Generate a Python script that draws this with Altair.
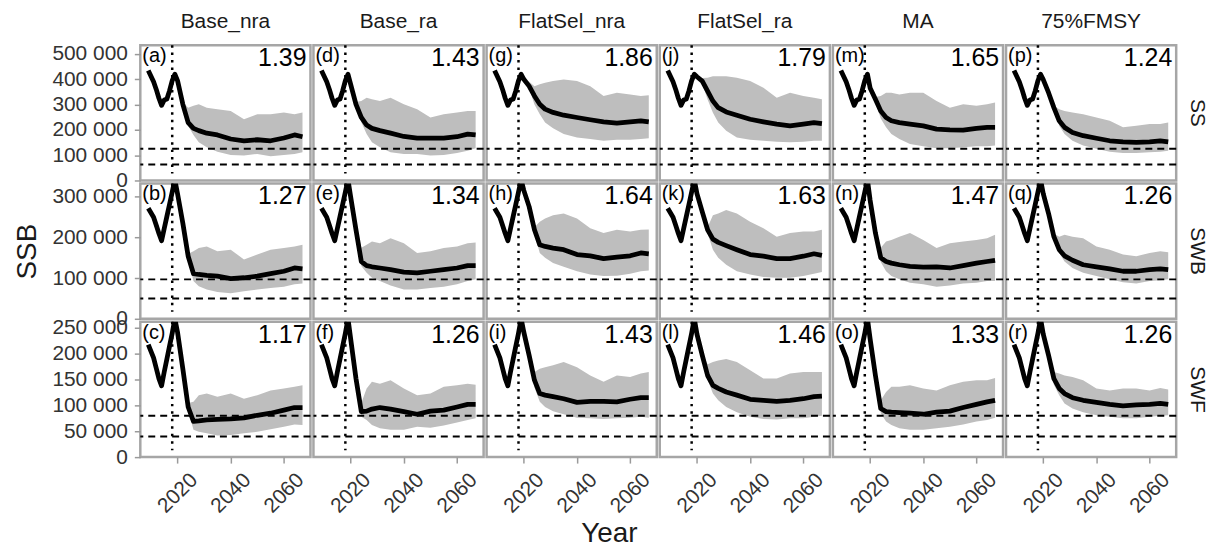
import altair as alt
import pandas as pd

# ---------------- data ----------------
scenarios = ["Base_nra", "Base_ra", "FlatSel_nra", "FlatSel_ra", "MA", "75%FMSY"]
stocks = ["SS", "SWB", "SWF"]
letters = [["(a)", "(d)", "(g)", "(j)", "(m)", "(p)"],
           ["(b)", "(e)", "(h)", "(k)", "(n)", "(q)"],
           ["(c)", "(f)", "(i)", "(l)", "(o)", "(r)"]]
ratios = [["1.39", "1.43", "1.86", "1.79", "1.65", "1.24"],
          ["1.27", "1.34", "1.64", "1.63", "1.47", "1.26"],
          ["1.17", "1.26", "1.43", "1.46", "1.33", "1.26"]]

hist_years = [2009, 2011, 2012, 2013, 2014, 2015, 2016, 2017, 2018, 2019]
hist_ss = [435, 390, 360, 325, 297, 318, 322, 355, 395, 420]
hist_swb = [272, 250, 230, 210, 192, 222, 252, 282, 312, 342]
hist_swf = [218, 192, 172, 152, 138, 165, 190, 215, 240, 268]

proj_years = [2020, 2022, 2024, 2026, 2028, 2031, 2035, 2040, 2045, 2050, 2055, 2060, 2064, 2067]

# SSB in thousand tonnes: median, lower, upper per scenario
ss_med = [[395, 301, 229, 206, 197, 187, 180, 164, 157, 161, 157, 168, 180, 173],
          [380, 301, 249, 219, 206, 197, 187, 174, 167, 167, 167, 173, 183, 180],
          [400, 373, 334, 301, 282, 269, 258, 249, 240, 232, 227, 232, 236, 232],
          [410, 393, 353, 314, 288, 271, 258, 242, 232, 223, 216, 223, 229, 225],
          [366, 321, 275, 249, 236, 229, 223, 216, 203, 200, 199, 206, 210, 210],
          [399, 347, 288, 236, 210, 190, 177, 167, 157, 153, 151, 153, 157, 153]]
ss_hi = [[395, 310, 288, 295, 301, 288, 282, 275, 242, 262, 262, 269, 262, 269],
         [380, 310, 314, 327, 321, 314, 327, 301, 282, 249, 262, 269, 275, 275],
         [400, 390, 373, 380, 386, 393, 399, 393, 373, 334, 347, 340, 334, 337],
         [410, 405, 406, 412, 412, 412, 406, 393, 367, 327, 347, 334, 327, 321],
         [366, 330, 334, 347, 347, 340, 347, 347, 314, 288, 301, 295, 301, 308],
         [399, 355, 295, 282, 275, 269, 262, 249, 236, 210, 216, 223, 223, 229]]
ss_lo = [[395, 290, 215, 180, 151, 131, 114, 101, 99, 105, 96, 101, 105, 112],
         [380, 295, 230, 184, 151, 131, 112, 105, 105, 99, 101, 109, 118, 127],
         [400, 365, 300, 262, 229, 206, 184, 170, 164, 157, 161, 161, 164, 167],
         [410, 380, 320, 268, 229, 197, 170, 161, 157, 153, 151, 153, 157, 157],
         [366, 310, 245, 210, 184, 164, 144, 135, 127, 127, 131, 135, 135, 138],
         [399, 340, 280, 216, 184, 157, 138, 125, 114, 109, 109, 112, 114, 118]]

swb_med = [[308, 235, 154, 111, 109, 107, 105, 99, 101, 105, 111, 117, 125, 123],
           [300, 219, 141, 131, 128, 125, 121, 115, 113, 117, 121, 125, 131, 131],
           [316, 276, 219, 182, 178, 174, 170, 158, 155, 148, 152, 155, 162, 160],
           [308, 263, 219, 196, 188, 180, 170, 158, 154, 148, 148, 154, 160, 156],
           [292, 211, 150, 141, 137, 133, 129, 127, 128, 125, 131, 137, 141, 144],
           [308, 259, 202, 170, 155, 144, 133, 128, 123, 117, 117, 121, 123, 121]]
swb_hi = [[308, 240, 160, 166, 174, 178, 166, 170, 146, 158, 170, 174, 178, 182],
          [300, 225, 175, 182, 190, 186, 198, 186, 162, 166, 174, 178, 186, 188],
          [316, 280, 225, 239, 247, 255, 259, 247, 223, 211, 219, 215, 219, 220],
          [308, 268, 225, 255, 259, 268, 259, 239, 223, 202, 211, 215, 215, 219],
          [292, 216, 175, 190, 194, 202, 211, 194, 174, 186, 190, 194, 198, 207],
          [308, 263, 210, 202, 207, 202, 198, 178, 170, 158, 154, 162, 166, 164]]
swb_lo = [[308, 230, 145, 93, 80, 72, 66, 63, 68, 72, 76, 79, 85, 87],
          [300, 213, 130, 113, 101, 93, 82, 72, 72, 76, 79, 85, 93, 97],
          [316, 270, 210, 162, 150, 137, 128, 117, 109, 105, 106, 111, 117, 119],
          [308, 258, 210, 170, 150, 133, 117, 109, 103, 101, 101, 105, 111, 115],
          [292, 206, 140, 117, 105, 97, 89, 85, 79, 82, 87, 89, 93, 93],
          [308, 255, 195, 162, 141, 125, 113, 105, 97, 90, 87, 93, 95, 97]]

swf_med = [[242, 171, 97, 69, 70, 72, 73, 74, 76, 81, 85, 91, 96, 96],
           [229, 152, 88, 89, 93, 96, 93, 88, 83, 89, 91, 97, 102, 102],
           [242, 197, 149, 123, 120, 117, 113, 106, 108, 108, 107, 112, 115, 115],
           [238, 197, 158, 139, 133, 126, 120, 112, 110, 108, 110, 113, 117, 118],
           [229, 158, 94, 88, 87, 86, 85, 83, 87, 89, 96, 102, 107, 110],
           [238, 197, 152, 133, 123, 115, 110, 106, 102, 99, 101, 102, 104, 102]]
swf_hi = [[242, 175, 105, 107, 120, 123, 117, 123, 113, 120, 129, 133, 136, 139],
          [229, 156, 105, 133, 146, 142, 149, 133, 120, 123, 136, 139, 142, 140],
          [242, 201, 165, 171, 174, 178, 184, 174, 158, 146, 158, 155, 162, 165],
          [238, 201, 180, 184, 187, 190, 184, 168, 152, 152, 162, 165, 165, 165],
          [229, 162, 110, 126, 136, 136, 139, 133, 129, 139, 146, 149, 149, 153],
          [238, 201, 165, 162, 158, 155, 149, 133, 129, 133, 133, 129, 134, 131]]
swf_lo = [[242, 167, 90, 53, 49, 46, 42, 43, 46, 49, 54, 59, 63, 62],
          [229, 148, 78, 72, 62, 56, 53, 53, 59, 57, 61, 67, 72, 75],
          [242, 193, 135, 107, 97, 89, 83, 76, 75, 74, 75, 76, 78, 76],
          [238, 193, 150, 123, 110, 97, 87, 78, 74, 73, 75, 75, 78, 80],
          [229, 154, 85, 69, 62, 56, 53, 53, 56, 59, 63, 69, 72, 76],
          [238, 193, 140, 120, 104, 94, 87, 81, 78, 75, 75, 78, 80, 81]]

# reference points (Blim, Bpa) per stock
ref_ss = [63500, 125000]
ref_swb = [50000, 97000]
ref_swf = [40000, 80000]
assess_year = 2018

y_max = [535000, 333000, 262000]
y_ticks = [[0, 100000, 200000, 300000, 400000, 500000],
           [0, 100000, 200000, 300000],
           [0, 50000, 100000, 150000, 200000, 250000]]
x_ticks = [2020, 2040, 2060]

hist_by_stock = [hist_ss, hist_swb, hist_swf]
med_by_stock = [ss_med, swb_med, swf_med]
hi_by_stock = [ss_hi, swb_hi, swf_hi]
lo_by_stock = [ss_lo, swb_lo, swf_lo]
ref_by_stock = [ref_ss, ref_swb, ref_swf]

# ---------------- layout ----------------
W, H = 171, 136
FONT = "Liberation Sans"


def panel(r, c):
    xs = alt.Scale(domain=[2006, 2070], nice=False)
    ys = alt.Scale(domain=[0, y_max[r]], nice=False)

    if c == 0:
        yax = alt.Axis(values=y_ticks[r], grid=False, domain=False,
                       labelExpr="replace(format(datum.value, ','), ',', ' ')",
                       title="SSB" if r == 1 else "", titleFontSize=28,
                       titleFontWeight="normal", titlePadding=10, titleColor="#1a1a1a")
    else:
        yax = None
    if r == 2:
        xax = alt.Axis(values=x_ticks, format="d", grid=False, domain=False,
                       labelAngle=315, labelAlign="center", labelBaseline="middle",
                       labelPadding=30,
                       title="Year" if c == 2 else "", titleFontSize=28,
                       titleFontWeight="normal", titleColor="#1a1a1a",
                       titlePadding=3, titleX=123)
    else:
        xax = None

    line_df = pd.DataFrame({
        "year": hist_years + proj_years,
        "ssb": [v * 1000 for v in hist_by_stock[r]] + [v * 1000 for v in med_by_stock[r][c]],
    })
    band_df = pd.DataFrame({
        "year": proj_years,
        "lo": [v * 1000 for v in lo_by_stock[r][c]],
        "hi": [v * 1000 for v in hi_by_stock[r][c]],
    })
    ref_df = pd.DataFrame({"v": ref_by_stock[r]})

    band = alt.Chart(band_df).mark_area(color="#bebebe", clip=True).encode(
        x=alt.X("year:Q", scale=xs, axis=xax),
        y=alt.Y("lo:Q", scale=ys, axis=yax),
        y2="hi:Q",
    )
    refs = alt.Chart(ref_df).mark_rule(color="black", strokeDash=[7, 5], strokeWidth=2).encode(
        y=alt.Y("v:Q", scale=ys, axis=yax),
    )
    vline = alt.Chart(pd.DataFrame({"yr": [assess_year]})).mark_rule(
        color="black", strokeDash=[2.5, 5], strokeWidth=2.5
    ).encode(
        x=alt.X("yr:Q", scale=xs, axis=xax),
        y=alt.value(0),
        y2=alt.value(H - 7),
    )
    line = alt.Chart(line_df).mark_line(color="black", strokeWidth=4.8, clip=True,
                                        strokeJoin="round").encode(
        x=alt.X("year:Q", scale=xs, axis=xax),
        y=alt.Y("ssb:Q", scale=ys, axis=yax),
    )
    tag = alt.Chart(pd.DataFrame({"t": [letters[r][c]]})).mark_text(
        align="left", baseline="top", fontSize=20, font=FONT, color="black"
    ).encode(x=alt.value(2), y=alt.value(1), text="t:N")
    ratio = alt.Chart(pd.DataFrame({"t": [ratios[r][c]]})).mark_text(
        align="right", baseline="top", fontSize=25, font=FONT, color="black"
    ).encode(x=alt.value(W - 4), y=alt.value(1), text="t:N")

    layers = [band, refs, vline, line, tag, ratio]
    if r == 0:
        layers.append(alt.Chart(pd.DataFrame({"t": [scenarios[c]]})).mark_text(
            align="center", baseline="middle", fontSize=21, font=FONT, color="#1a1a1a"
        ).encode(x=alt.value(W / 2), y=alt.value(-23), text="t:N"))
    if c == 5:
        layers.append(alt.Chart(pd.DataFrame({"t": [stocks[r]]})).mark_text(
            align="center", baseline="middle", fontSize=21, font=FONT, color="#1a1a1a",
            angle=90
        ).encode(x=alt.value(W + 21), y=alt.value(H / 2), text="t:N"))
    return alt.layer(*layers).properties(width=W, height=H)


panels = [panel(r, c) for r in range(3) for c in range(6)]

chart = alt.concat(*panels, columns=6, spacing=3, bounds="flush").properties(
    padding={"left": 12, "top": 8, "right": 5, "bottom": 5},
    background="white",
).configure_view(
    stroke="#a6a6a6", strokeWidth=2.5
).configure_axis(
    labelFont=FONT, titleFont=FONT, labelFontSize=21, labelColor="#333333",
    tickColor="#9a9a9a", tickSize=6, tickWidth=1.5, labelPadding=7,
)

chart.save("out.html", embed_options={"renderer": "svg", "actions": False})
